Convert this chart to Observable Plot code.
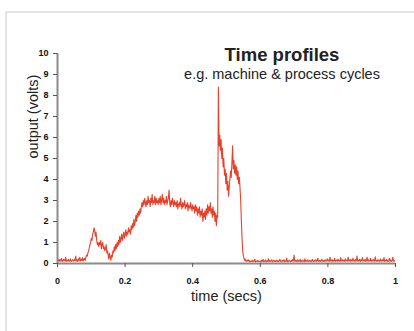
<!DOCTYPE html>
<html>
<head>
<meta charset="utf-8">
<script src="https://cdn.jsdelivr.net/npm/d3@7"></script>
<script src="https://cdn.jsdelivr.net/npm/@observablehq/plot@0.6"></script>
<style>
  html, body { margin: 0; padding: 0; background: #fff; }
  #wrap { position: relative; width: 414px; height: 331px; overflow: hidden; font-family: Arial, "Liberation Sans", sans-serif; }
  #frame { position: absolute; left: 5px; top: 11px; width: 500px; height: 400px; border-left: 2px solid #e4e4e4; border-top: 2px solid #e4e4e4; }
  #title { position: absolute; left: 182px; width: 200px; top: 44px; text-align: center; font-size: 18.5px; font-weight: bold; color: #222; }
  #subtitle { position: absolute; left: 142px; width: 280px; top: 66px; text-align: center; font-size: 14.5px; color: #222; }
  svg { position: absolute; left: 0; top: 0; }
</style>
</head>
<body>
<div id="wrap">
  <div id="frame"></div>
  <div id="chart"></div>
  <div id="title">Time profiles</div>
  <div id="subtitle">e.g. machine &amp; process cycles</div>
</div>
<script>
// sample spacing (seconds)
const dt = 0.002;
// output (volts), one sample every 2 ms from 0 to 1 s
const volts = [
  // 0.000 - 0.048
  0.15,0.1,0.2,0.12,0.18,0.1,0.25,0.14,0.1,0.2,0.15,0.12,0.3,0.1,0.16,0.12,0.2,0.1,0.14,0.22,0.12,0.1,0.18,0.15,0.12,
  // 0.050 - 0.098
  0.2,0.14,0.35,0.12,0.18,0.1,0.22,0.15,0.3,0.12,0.2,0.14,0.28,0.12,0.18,0.25,0.15,0.3,0.4,0.35,0.5,0.6,0.75,0.9,1.0,
  // 0.100 - 0.148
  1.2,1.1,1.4,1.5,1.7,1.6,1.3,1.5,1.1,0.9,1.0,0.8,1.0,0.9,1.1,0.7,0.9,1.0,0.7,0.8,0.6,0.7,0.9,0.5,0.6,
  // 0.150 - 0.198
  0.4,0.2,0.5,0.3,0.15,0.4,0.3,0.6,0.5,0.8,0.6,0.9,0.7,1.0,0.8,1.1,0.9,1.3,1.0,1.2,1.4,1.1,1.3,1.5,1.2,
  // 0.200 - 0.248
  1.4,1.6,1.3,1.5,1.4,1.7,1.5,1.6,1.4,1.8,1.6,1.9,1.7,2.1,1.8,2.0,2.3,2.0,2.4,2.2,2.5,2.3,2.6,2.4,2.7,
  // 0.250 - 0.298
  2.9,2.7,3.0,2.8,3.1,2.9,2.7,3.0,2.8,3.2,2.9,3.0,2.7,3.1,2.9,3.3,2.8,3.0,2.9,3.2,2.8,3.1,2.9,3.0,2.8,
  // 0.300 - 0.348
  3.1,2.9,3.2,2.8,3.0,3.3,2.9,3.1,2.8,3.0,2.9,3.2,2.8,3.0,3.1,3.5,2.9,2.7,3.0,2.8,3.1,2.9,2.7,3.0,2.8,
  // 0.350 - 0.398
  2.9,2.7,3.0,2.6,2.8,2.9,2.7,3.1,2.8,2.6,2.9,2.7,2.8,3.0,2.6,2.8,2.7,2.9,2.5,2.8,2.7,2.6,2.9,2.7,2.5,
  // 0.400 - 0.448
  2.8,2.6,2.7,2.4,2.8,2.5,2.7,2.3,2.6,2.4,2.7,2.2,2.5,2.3,2.6,2.0,2.4,2.2,2.5,2.1,2.6,2.3,2.8,2.4,2.7,
  // 0.450 - 0.498
  2.5,2.9,2.4,2.6,2.2,2.7,2.3,2.5,2.0,2.4,1.8,2.3,2.2,8.4,5.6,6.1,5.4,5.9,5.0,5.5,4.6,5.0,4.2,4.5,3.8,
  // 0.500 - 0.548
  4.3,3.5,3.9,3.2,3.6,4.0,4.4,4.1,4.8,5.6,4.5,4.9,4.3,4.7,4.2,4.6,4.0,4.4,3.8,4.1,3.6,3.0,2.0,1.2,0.6,
  // 0.550 - 0.598
  0.35,0.25,0.15,0.2,0.1,0.15,0.12,0.18,0.1,0.14,0.08,0.12,0.1,0.16,0.09,0.13,0.1,0.2,0.08,0.12,0.1,0.15,0.09,0.11,0.1,
  // 0.600 - 0.648
  0.12,0.08,0.15,0.1,0.2,0.09,0.13,0.1,0.17,0.08,0.12,0.1,0.22,0.09,0.14,0.1,0.12,0.18,0.08,0.11,0.15,0.1,0.13,0.09,0.16,
  // 0.650 - 0.698
  0.1,0.14,0.08,0.12,0.2,0.1,0.13,0.09,0.15,0.11,0.18,0.08,0.12,0.1,0.25,0.09,0.13,0.1,0.16,0.12,0.08,0.14,0.1,0.2,0.12,
  // 0.700 - 0.748
  0.4,0.1,0.15,0.12,0.09,0.18,0.1,0.14,0.11,0.2,0.08,0.13,0.1,0.16,0.12,0.09,0.22,0.1,0.14,0.11,0.17,0.09,0.12,0.15,0.1,
  // 0.750 - 0.798
  0.13,0.1,0.2,0.12,0.09,0.15,0.11,0.18,0.1,0.14,0.25,0.09,0.12,0.16,0.1,0.13,0.2,0.11,0.15,0.09,0.12,0.18,0.1,0.14,0.22,
  // 0.800 - 0.848
  0.12,0.16,0.1,0.3,0.13,0.11,0.19,0.1,0.15,0.12,0.24,0.1,0.14,0.17,0.11,0.2,0.12,0.15,0.1,0.28,0.13,0.11,0.18,0.12,0.16,
  // 0.850 - 0.898
  0.1,0.22,0.13,0.15,0.11,0.3,0.12,0.17,0.1,0.2,0.14,0.11,0.25,0.12,0.16,0.1,0.19,0.13,0.35,0.11,0.15,0.12,0.2,0.1,0.17,
  // 0.900 - 0.948
  0.13,0.28,0.11,0.16,0.12,0.2,0.1,0.15,0.3,0.12,0.18,0.11,0.14,0.25,0.1,0.16,0.12,0.2,0.13,0.11,0.32,0.12,0.15,0.1,0.18,
  // 0.950 - 0.998
  0.12,0.16,0.1,0.22,0.13,0.11,0.18,0.12,0.28,0.1,0.15,0.12,0.2,0.11,0.14,0.1,0.25,0.12,0.16,0.1,0.13,0.3,0.11,0.15,0.12,
  // 1.000
  0.14
];
const xTicks = [0, 0.2, 0.4, 0.6, 0.8, 1];
const yTicks = [0, 1, 2, 3, 4, 5, 6, 7, 8, 9, 10];
const xLabel = "time (secs)";
const yLabel = "output (volts)";

const data = volts.map((v, i) => ({t: i * dt, v}));

const chart = Plot.plot({
  width: 414,
  height: 331,
  marginLeft: 57,
  marginRight: 19,
  marginTop: 53,
  marginBottom: 68,
  style: {fontFamily: 'Arial, "Liberation Sans", sans-serif', background: "transparent", overflow: "visible"},
  x: {domain: [0, 1]},
  y: {domain: [0, 10]},
  marks: [
    Plot.line(data, {x: "t", y: "v", stroke: "#e8412b", strokeWidth: 1.1, clip: true}),
    Plot.ruleX([0], {stroke: "#8a8a8a", strokeWidth: 2}),
    Plot.ruleY([0], {stroke: "#8a8a8a", strokeWidth: 2}),
    Plot.axisX({ticks: xTicks, tickSize: 4, tickPadding: 10, stroke: "#555", fill: "#111",
      fontSize: 9, fontWeight: "bold", label: null, tickFormat: d3.format("")}),
    Plot.axisY({ticks: yTicks, tickSize: 4, tickPadding: 5, stroke: "#555", fill: "#111",
      fontSize: 9, fontWeight: "bold", label: null}),
    Plot.text([xLabel], {frameAnchor: "bottom", dy: 37, fontSize: 14.5, fill: "#222", text: d => d}),
    Plot.text([yLabel], {frameAnchor: "left", dx: -24, rotate: -90, fontSize: 14.5, fill: "#222", text: d => d})
  ]
});
document.getElementById("chart").appendChild(chart);
</script>
</body>
</html>
